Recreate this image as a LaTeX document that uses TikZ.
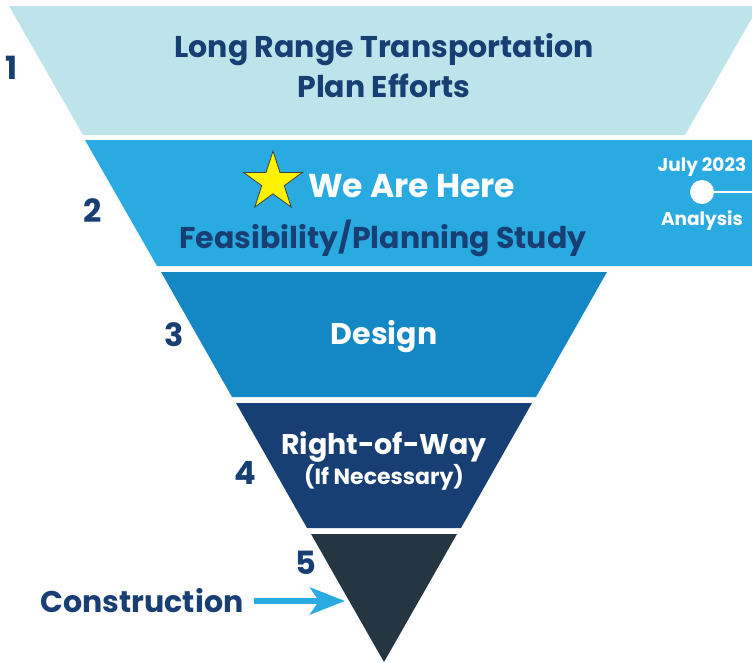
\documentclass[tikz,border=0pt]{standalone}
\usepackage{fontspec}
\setmainfont{Poppins}
\usetikzlibrary{arrows.meta,shapes.geometric}
\definecolor{bandone}{HTML}{BCE4EA}
\definecolor{bandtwo}{HTML}{29ABE2}
\definecolor{bandthree}{HTML}{1487C5}
\definecolor{bandfour}{HTML}{173F74}
\definecolor{bandfive}{HTML}{243642}
\definecolor{navy}{HTML}{173F74}
\definecolor{staryellow}{HTML}{FFF200}
\begin{document}
\begin{tikzpicture}[x=1pt,y=-1pt,
  num/.style={font=\bfseries\fontsize{32}{32}\selectfont,text=navy,inner sep=0pt},
  lbl/.style={font=\bfseries\fontsize{30}{40}\selectfont,align=center,inner sep=0pt},
  sub/.style={font=\bfseries\fontsize{22}{22}\selectfont,inner sep=0pt},
  tl/.style={font=\bfseries\fontsize{18.5}{18.5}\selectfont,text=white,inner sep=0pt}]
\useasboundingbox (0,0) rectangle (752,662);

%%%%%%%% bands
\fill[bandone] (9,6) -- (752,6) -- (752,18) -- (685,135) -- (83,135) -- cycle;
\fill[bandtwo] (85,140) -- (752,140) -- (752,266) -- (157,266) -- cycle;
\fill[bandthree] (161,272) -- (607,272) -- (536,397) -- (232,397) -- cycle;
\fill[bandfour] (236,403) -- (532,403) -- (461,528) -- (307,528) -- cycle;
\fill[bandfive] (311,534) -- (457,534) -- (384,662) -- cycle;

%%%%%%%% labels
\node[lbl,text=navy] (lrtp) at (384,66) {Long Range Transportation\\Plan Efforts};
\node[shape=star,star points=5,star point ratio=2.618,minimum size=62pt,inner sep=0pt,
  fill=staryellow,draw=black!75,thick] (star) at (273,182) {};
\node[lbl,text=white,anchor=west,font=\bfseries\fontsize{33}{33}\selectfont] (here) at (308,186) {We Are Here};
\node[lbl,text=navy] (feas) at (383,238) {Feasibility/Planning Study};
\node[lbl,text=white] (design) at (384,337) {Design};
\node[lbl,text=white,font=\bfseries\fontsize{28.5}{28.5}\selectfont] (row) at (384,447) {Right-of-Way};
\node[sub,text=white] (ifnec) at (384,477) {(If Necessary)};

%%%%%%%% numbers
\node[num] (n1) at (12,68) {1};
\node[num] (n2) at (93,211) {2};
\node[num] (n3) at (174,335) {3};
\node[num] (n4) at (245,473) {4};
\node[num] (n5) at (306,563) {5};

%%%%%%%% timeline
\node[circle,fill=white,minimum size=24pt,inner sep=0pt] (dot) at (702,192) {};
\coordinate (dotend) at (752,192);
\path [-,white,line width=2.5pt] (dot) edge (dotend);
\node[tl] (date) at (702,167) {July 2023};
\node[tl] (analysis) at (702,221) {Analysis};

%%%%%%%% construction
\node[lbl,text=navy] (cons) at (142,601) {Construction};
\coordinate (tip) at (345,601);
\path [-{Stealth[length=35pt,width=27pt,inset=9pt]},bandtwo,line width=6pt,shorten <=10pt] (cons) edge (tip);

\end{tikzpicture}
\end{document}
